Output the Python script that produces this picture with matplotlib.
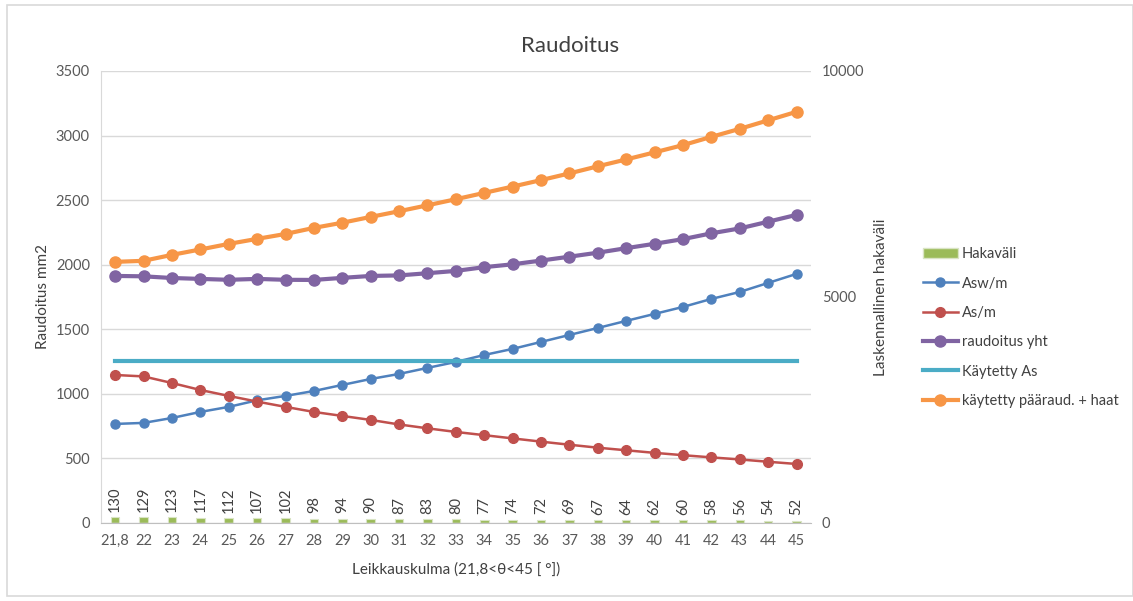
import matplotlib
matplotlib.use("Agg")
import matplotlib.pyplot as plt
from matplotlib.patches import Rectangle, Patch
from matplotlib.lines import Line2D

plt.rcParams['font.family'] = ['Lato', 'DejaVu Sans']

# leikkauskulma (deg) categories
kulmat = ['21,8'] + [str(k) for k in range(22, 46)]

hakavali = [130, 129, 123, 117, 112, 107, 102, 98, 94, 90, 87, 83, 80,
            77, 74, 72, 69, 67, 64, 62, 60, 58, 56, 54, 52]
asw = [767, 775, 813, 860, 899, 950, 984, 1022, 1069, 1115, 1154, 1201, 1247,
       1301, 1348, 1402, 1456, 1510, 1565, 1619, 1673, 1735, 1789, 1859, 1929]
as_m = [1146, 1135, 1084, 1030, 984, 940, 899, 860, 829, 798, 763, 733, 705,
        680, 655, 630, 606, 583, 563, 543, 525, 508, 492, 474, 457]
raud_yht = [1913, 1910, 1897, 1890, 1883, 1890, 1883, 1882, 1898, 1913, 1917, 1934, 1952,
            1981, 2003, 2032, 2062, 2093, 2128, 2162, 2198, 2243, 2281, 2333, 2386]
kaytetty_as = [1257] * len(kulmat)
paaraud_haat = [2022, 2030, 2076, 2118, 2161, 2200, 2238, 2285, 2325, 2370, 2414, 2460, 2507,
                2556, 2605, 2655, 2707, 2762, 2815, 2870, 2926, 2990, 3052, 3118, 3184]

txt = '#595959'
x = list(range(len(kulmat)))

fig = plt.figure(figsize=(11.33, 6.01), dpi=100)
fig.patches.append(Rectangle((0.006, 0.008), 0.994, 0.983, transform=fig.transFigure,
                             fill=False, edgecolor='#D9D9D9', linewidth=1.2))

ax = fig.add_axes([0.0891, 0.1298, 0.6265, 0.7521])
ax2 = ax.twinx()

# secondary axis: hakaväli bars with value labels
ax2.bar(x, hakavali, width=0.3, color='#9BBB59', edgecolor='#D9E4C4', linewidth=0.8, zorder=2)
for xi, h in zip(x, hakavali):
    ax2.text(xi, h + 120, str(h), rotation=90, ha='center', va='bottom',
             fontsize=10.5, color='#404040')
ax2.set_ylim(0, 10000)
ax2.set_yticks([0, 5000, 10000])
ax2.set_ylabel('Laskennallinen hakaväli', fontsize=11, color='#404040', labelpad=7)

# primary axis lines
ax.plot(x, asw, color='#4F81BD', lw=1.8, marker='o', ms=6.5, zorder=4)
ax.plot(x, as_m, color='#C0504D', lw=1.8, marker='o', ms=7, zorder=4)
ax.plot(x, raud_yht, color='#8064A2', lw=3, marker='o', ms=8, zorder=4)
ax.plot(x, kaytetty_as, color='#4BACC6', lw=3, zorder=4)
ax.plot(x, paaraud_haat, color='#F79646', lw=3, marker='o', ms=8, zorder=4)
ax.set_zorder(ax2.get_zorder() + 1)
ax.patch.set_visible(False)

ax.set_ylim(0, 3500)
ax.set_yticks(range(0, 3501, 500))
ax.set_xlim(-0.5, len(x) - 0.5)
ax.set_xticks(x)
ax.set_xticklabels(kulmat)
ax.grid(axis='y', color='#D9D9D9', lw=1)
ax.set_axisbelow(True)
ax.set_ylabel('Raudoitus mm2', fontsize=11, color='#404040', labelpad=4)
ax.set_xlabel('Leikkauskulma (21,8<θ<45 [ °])', fontsize=11, color='#404040', labelpad=10)
fig.suptitle('Raudoitus', x=0.503, y=0.94, fontsize=16, color='#404040')

for a in (ax, ax2):
    a.tick_params(length=0, labelsize=10.5, labelcolor=txt, pad=8)
    for s in a.spines.values():
        s.set_visible(False)
ax.spines['left'].set_visible(True)
ax.spines['left'].set_color('#D9D9D9')
ax.spines['bottom'].set_visible(True)
ax.spines['bottom'].set_color('#BFBFBF')

handles = [
    Patch(facecolor='#9BBB59', edgecolor='#D9E4C4'),
    Line2D([], [], color='#4F81BD', lw=1.8, marker='o', ms=6.5),
    Line2D([], [], color='#C0504D', lw=1.8, marker='o', ms=7),
    Line2D([], [], color='#8064A2', lw=3, marker='o', ms=8),
    Line2D([], [], color='#4BACC6', lw=3),
    Line2D([], [], color='#F79646', lw=3, marker='o', ms=8),
]
labels = ['Hakaväli', 'Asw/m', 'As/m', 'raudoitus yht', 'Käytetty As', 'käytetty pääraud. + haat']
fig.legend(handles, labels, loc='center left', bbox_to_anchor=(0.803, 0.455), frameon=False,
           fontsize=10.5, labelcolor='#404040', handlelength=2.4, handletextpad=0.25,
           labelspacing=1.05)

fig.savefig('out.png', dpi=100)
